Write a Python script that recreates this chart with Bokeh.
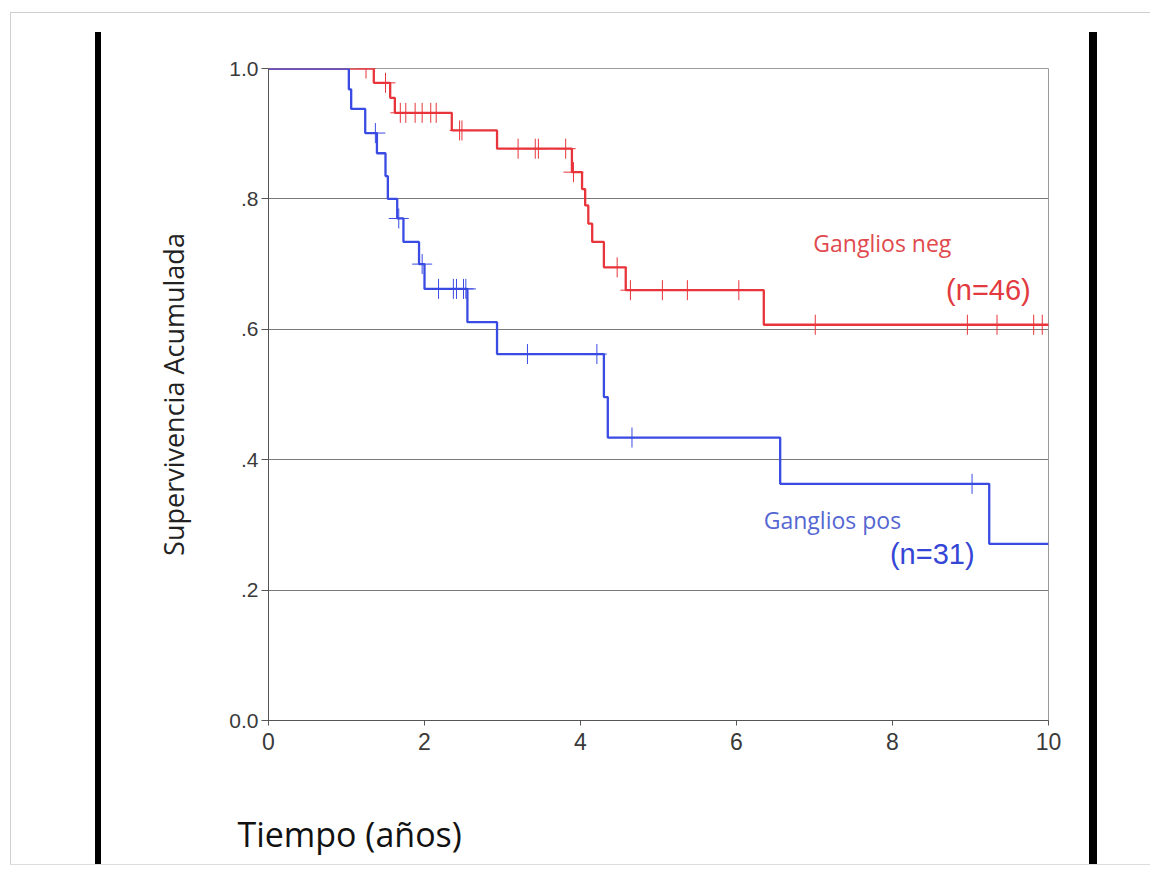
import numpy as np
from bokeh.plotting import figure
from bokeh.models import FixedTicker, Label, LinearAxis, Range1d
from bokeh.embed import file_html
from bokeh.resources import INLINE

# ---- data ----
neg_t = [0.0, 1.35, 1.56, 1.62, 2.35, 2.93, 3.89, 4.02, 4.06, 4.10, 4.15, 4.30, 4.58, 6.35, 10.0]
neg_s = [1.0, 0.978, 0.955, 0.932, 0.905, 0.877, 0.841, 0.815, 0.790, 0.762, 0.734, 0.695, 0.660, 0.607, 0.607]
neg_cens = [1.25, 1.50, 1.69, 1.76, 1.88, 1.97, 2.08, 2.15, 2.45, 2.48, 3.20, 3.42, 3.46, 3.81, 3.91,
            4.47, 4.64, 5.05, 5.37, 6.03, 7.01, 8.96, 9.34, 9.81, 9.92]

pos_t = [0.0, 1.03, 1.06, 1.24, 1.39, 1.50, 1.53, 1.65, 1.73, 1.93, 2.00, 2.55, 2.93, 4.30, 4.35, 6.56, 9.24, 10.0]
pos_s = [1.0, 0.968, 0.938, 0.901, 0.870, 0.835, 0.800, 0.770, 0.734, 0.700, 0.662, 0.611, 0.562, 0.496, 0.434, 0.363, 0.271, 0.271]
pos_cens = [1.37, 1.67, 1.97, 2.18, 2.37, 2.41, 2.50, 2.53, 3.32, 4.21, 4.66, 9.02]

x_ticks = [0, 2, 4, 6, 8, 10]
y_ticks = [0.0, 0.2, 0.4, 0.6, 0.8, 1.0]
y_tick_labels = ["0.0", ".2", ".4", ".6", ".8", "1.0"]

neg_label, neg_n = "Ganglios neg", "(n=46)"
pos_label, pos_n = "Ganglios pos", "(n=31)"
x_title = "Tiempo (años)"
y_title = "Supervivencia Acumulada"

RED = "#e8353b"
BLUE = "#3a4be3"


def surv_at(ts, ss, c):
    idx = np.searchsorted(np.array(ts), np.array(c), side="right") - 1
    return list(np.array(ss)[idx])


# page decoration (outer frame line and two thick black bars) drawn as CSS background
page_bg = ", ".join([
    "linear-gradient(#000,#000) 95px 32px / 6px 832px no-repeat",
    "linear-gradient(#000,#000) 1089px 32px / 8px 832px no-repeat",
    "linear-gradient(#cfcfcf,#cfcfcf) 10px 12px / 1px 852px no-repeat",
    "linear-gradient(#cfcfcf,#cfcfcf) 10px 12px / 1145px 1px no-repeat",
    "linear-gradient(#dcdcdc,#dcdcdc) 10px 864px / 1145px 1px no-repeat",
    "#ffffff",
])

p = figure(width=1150, height=872, output_backend="svg", toolbar_location=None,
           x_range=Range1d(0, 10), y_range=Range1d(0, 1),
           min_border_left=268, min_border_right=102, min_border_top=68, min_border_bottom=152)
p.styles = {"background": page_bg}
p.background_fill_color = "white"
p.border_fill_alpha = 0
p.outline_line_color = "#9a9a9a"
p.outline_line_width = 1

# axes
p.xaxis.ticker = FixedTicker(ticks=x_ticks)
p.yaxis.ticker = FixedTicker(ticks=y_ticks)
p.yaxis.major_label_overrides = {v: l for v, l in zip(y_ticks, y_tick_labels)}
for ax in (p.xaxis, p.yaxis):
    ax.axis_line_color = "#555555"
    ax.major_tick_line_color = "#555555"
    ax.minor_tick_line_color = None
    ax.major_tick_in = 0
    ax.major_label_text_font = "Liberation Sans"
    ax.major_label_text_color = "#3a3a3a"
p.xaxis.major_tick_out = 5
p.yaxis.major_tick_out = 7
p.xaxis.major_label_text_font_size = "23px"
p.yaxis.major_label_text_font_size = "21px"
p.xaxis.major_label_standoff = 7
p.yaxis.major_label_standoff = 3

p.yaxis.axis_label = y_title
p.yaxis.axis_label_text_font = "Open Sans"
p.yaxis.axis_label_text_font_style = "normal"
p.yaxis.axis_label_text_font_size = "27px"
p.yaxis.axis_label_text_color = "#222222"
p.yaxis.axis_label_standoff = 34

# x title: placed left (as in the original) through a second, line-less bottom axis
title_pos = 1.04
title_axis = LinearAxis(ticker=FixedTicker(ticks=[title_pos]),
                        major_label_overrides={title_pos: x_title},
                        axis_line_color=None, major_tick_line_color=None, minor_tick_line_color=None,
                        major_tick_out=0, major_tick_in=0, major_label_standoff=58,
                        major_label_text_font="Open Sans", major_label_text_font_size="34px",
                        major_label_text_color="#111111")
p.add_layout(title_axis, "below")

p.xgrid.grid_line_color = None
p.ygrid.grid_line_color = "#7a7a7a"
p.ygrid.grid_line_width = 1

# curves
p.step(neg_t, neg_s, mode="after", line_color=RED, line_width=2.3)
p.step(pos_t, pos_s, mode="after", line_color=BLUE, line_width=2.3)
p.scatter(neg_cens, surv_at(neg_t, neg_s, neg_cens), marker="cross", size=20,
          line_color=RED, line_width=1)
p.scatter(pos_cens, surv_at(pos_t, pos_s, pos_cens), marker="cross", size=20,
          line_color=BLUE, line_width=1)

# labels inside the plot
p.add_layout(Label(x=7.87, y=0.732, text=neg_label, text_align="center", text_baseline="middle",
                   text_font="Open Sans", text_font_size="23px", text_color="#e04a4e"))
p.add_layout(Label(x=9.23, y=0.660, text=neg_n, text_align="center", text_baseline="middle",
                   text_font="Liberation Sans", text_font_size="29px", text_color="#e23a40"))
p.add_layout(Label(x=7.23, y=0.308, text=pos_label, text_align="center", text_baseline="middle",
                   text_font="Open Sans", text_font_size="23px", text_color="#5567d2"))
p.add_layout(Label(x=8.51, y=0.256, text=pos_n, text_align="center", text_baseline="middle",
                   text_font="Liberation Sans", text_font_size="29px", text_color="#3546d6"))

open("out.html", "w").write(file_html(p, INLINE))
